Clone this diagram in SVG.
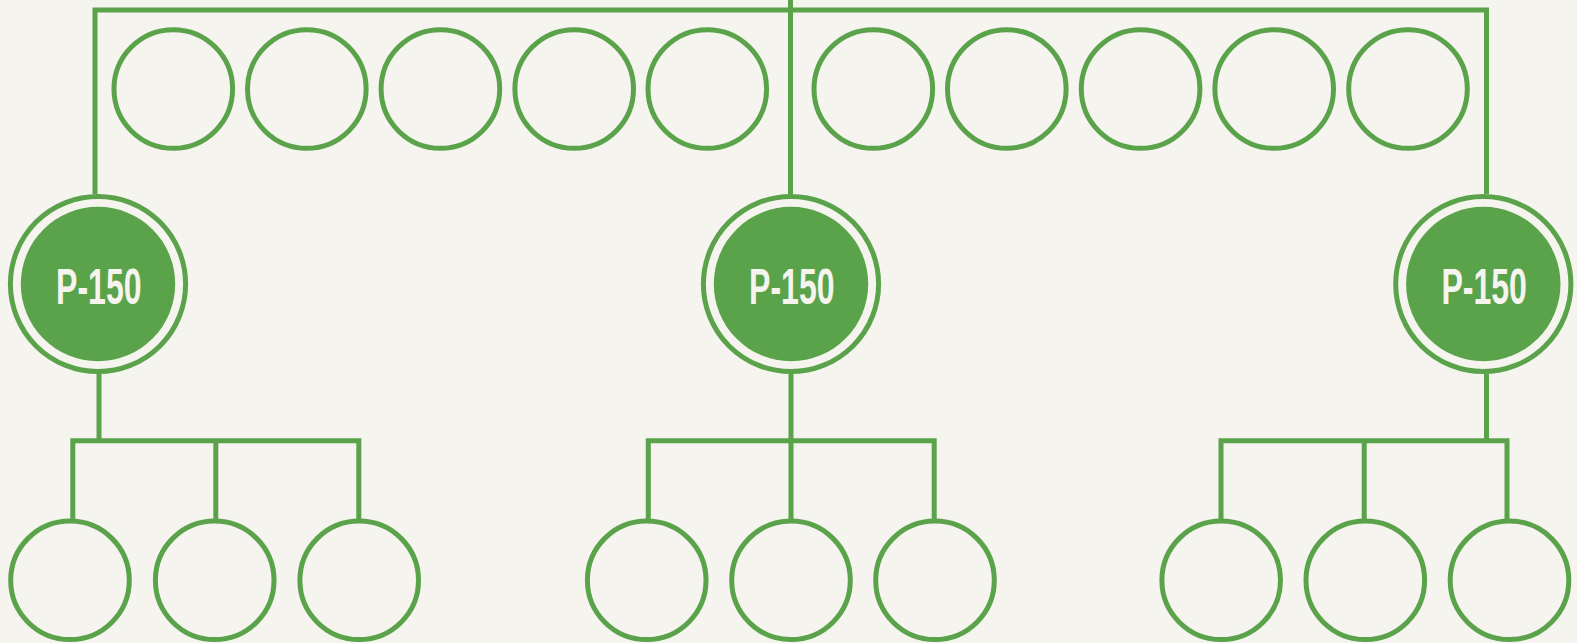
<svg xmlns="http://www.w3.org/2000/svg" width="1577" height="643" viewBox="0 0 1577 643">
<style>
.bg{fill:#f5f4ee}
.c{fill:none;stroke:#5ba34b;stroke-width:5}
.ln{fill:none;stroke:#5ba34b;stroke-width:5;stroke-linejoin:miter;stroke-linecap:butt}
.hub{fill:#5ba34b}
.t{fill:#f5f4ee;font-family:"Liberation Sans",Arial,sans-serif;font-weight:bold;font-size:50px;text-anchor:middle}
</style>
<rect class="bg" x="0" y="0" width="1577" height="643"/>
<g id="connectors">
<path class="ln" d="M95,194 V10 H1486.5 V194"/>
<path class="ln" d="M790.5,0 V194"/>
<path class="ln" d="M99,374 V440.8"/>
<path class="ln" d="M72.8,520 V440.8 H358.8 V520"/>
<path class="ln" d="M215.8,440.8 V520"/>
<path class="ln" d="M791,374 V520"/>
<path class="ln" d="M648.3,520 V440.8 H934.2 V520"/>
<path class="ln" d="M1486.5,374 V440.8"/>
<path class="ln" d="M1221,520 V440.8 H1507 V520"/>
<path class="ln" d="M1364.2,440.8 V520"/>
</g>
<g id="top-1"><circle class="c" cx="173.3" cy="89" r="59.3"/></g>
<g id="top-2"><circle class="c" cx="306.8" cy="89" r="59.3"/></g>
<g id="top-3"><circle class="c" cx="440.4" cy="89" r="59.3"/></g>
<g id="top-4"><circle class="c" cx="574.2" cy="89" r="59.3"/></g>
<g id="top-5"><circle class="c" cx="707.3" cy="89" r="59.3"/></g>
<g id="top-6"><circle class="c" cx="873.3" cy="89" r="59.3"/></g>
<g id="top-7"><circle class="c" cx="1006.8" cy="89" r="59.3"/></g>
<g id="top-8"><circle class="c" cx="1140.6" cy="89" r="59.3"/></g>
<g id="top-9"><circle class="c" cx="1274.2" cy="89" r="59.3"/></g>
<g id="top-10"><circle class="c" cx="1408" cy="89" r="59.3"/></g>
<g id="hub-1">
<circle class="c" cx="98" cy="284" r="87.6"/>
<circle class="hub" cx="98" cy="284" r="77.2"/>
<text class="t" x="98.8" y="304.3" textLength="85.5" lengthAdjust="spacingAndGlyphs">P-150</text>
</g>
<g id="hub-2">
<circle class="c" cx="791" cy="284" r="87.6"/>
<circle class="hub" cx="791" cy="284" r="77.2"/>
<text class="t" x="791.8" y="304.3" textLength="85.5" lengthAdjust="spacingAndGlyphs">P-150</text>
</g>
<g id="hub-3">
<circle class="c" cx="1483.3" cy="284" r="87.6"/>
<circle class="hub" cx="1483.3" cy="284" r="77.2"/>
<text class="t" x="1484.2" y="304.3" textLength="85.5" lengthAdjust="spacingAndGlyphs">P-150</text>
</g>
<g id="leaf-1"><circle class="c" cx="70" cy="580.3" r="59.3"/></g>
<g id="leaf-2"><circle class="c" cx="214.7" cy="580.3" r="59.3"/></g>
<g id="leaf-3"><circle class="c" cx="359.2" cy="580.3" r="59.3"/></g>
<g id="leaf-4"><circle class="c" cx="646.7" cy="580.3" r="59.3"/></g>
<g id="leaf-5"><circle class="c" cx="791" cy="580.3" r="59.3"/></g>
<g id="leaf-6"><circle class="c" cx="935" cy="580.3" r="59.3"/></g>
<g id="leaf-7"><circle class="c" cx="1221.2" cy="580.3" r="59.3"/></g>
<g id="leaf-8"><circle class="c" cx="1365.3" cy="580.3" r="59.3"/></g>
<g id="leaf-9"><circle class="c" cx="1509.5" cy="580.3" r="59.3"/></g>
</svg>
